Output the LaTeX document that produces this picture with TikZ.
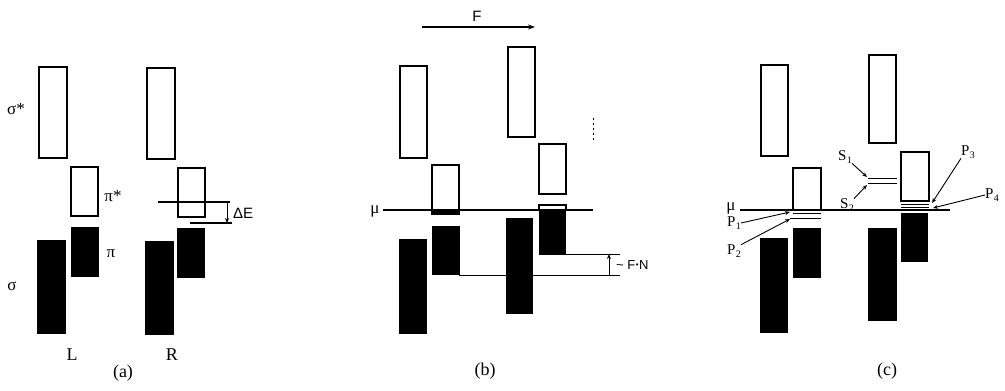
\documentclass[tikz,border=0pt]{standalone}
\usepackage{fontspec}
\setmainfont{Liberation Serif}
\newfontfamily\sansF{Liberation Sans}
\usetikzlibrary{arrows.meta}
\newcommand\bandnode[6]{\node[#2, anchor=north west, minimum width={(#5-#3)*1pt}, minimum height={(#6-#4)*1pt}] (#1) at (#3,#4) {};}
\newcommand\Pl[2]{#1\kern0.3pt\raisebox{-0.35ex}{\fontsize{10}{11}\selectfont #2}}
\tikzset{
  wband/.style={draw=black, fill=white, line width=1.4pt, inner sep=0pt, outer sep=0pt},
  bband/.style={draw=black, fill=black, line width=0.8pt, inner sep=0pt, outer sep=0pt},
  lev/.style={line width=1.4pt},
  thin lev/.style={line width=1pt},
  arr/.style={line width=0.9pt, -{Stealth[length=5pt,width=4pt]}},
  lab/.style={inner sep=0pt, font=\fontsize{17}{19}\selectfont},
  blab/.style={inner sep=0pt, font=\fontsize{18}{20}\selectfont},
  plab/.style={inner sep=0pt, font=\fontsize{15}{17}\selectfont},
  slab/.style={inner sep=0pt, font=\sansF\fontsize{13}{15}\selectfont},
}
\begin{document}
\begin{tikzpicture}[x=1pt,y=-1pt]
\useasboundingbox (0,0) rectangle (1005,391);
% ---------------- panel (a)
\bandnode{aLss}{wband}{39}{67}{67}{158}
\bandnode{aLps}{wband}{71}{167}{98}{216}
\bandnode{aLp}{bband}{71}{227}{98}{276}
\bandnode{aLs}{bband}{37}{240}{65}{333}
\bandnode{aRss}{wband}{147}{68}{175}{159}
\bandnode{aRps}{wband}{178}{168}{205}{217}
\bandnode{aRp}{bband}{177}{228}{204}{277}
\bandnode{aRs}{bband}{145}{241}{173}{334}
\coordinate (dEa1) at (158,202); \coordinate (dEa2) at (230,202);
\coordinate (dEb1) at (190,223); \coordinate (dEb2) at (232,223);
\coordinate (dEt) at (227,202); \coordinate (dEh) at (227,223);
\draw[lev] (dEa1) -- (dEa2);
\draw[lev] (dEb1) -- (dEb2);
\draw[arr] (dEt) -- (dEh);
\node[slab, font=\sansF\fontsize{15}{17}\selectfont, anchor=west] (dE) at (233,213) {ΔE};
\node[lab] (sigs) at (16,109) {σ*};
\node[lab] (pis) at (113,196) {π*};
\node[lab] (pi) at (111,254) {π};
\node[lab] (sig) at (12,286) {σ};
\node[blab] (Ll) at (72,355) {L};
\node[blab] (Rl) at (172,355) {R};
\node[blab] (pa) at (123,373) {(a)};
% ---------------- panel (b)
\coordinate (Fa) at (422,27); \coordinate (Fb) at (535,27);
\draw[line width=1.4pt, -{Stealth[length=7pt,width=5pt]}] (Fa) -- (Fb);
\node[slab, font=\sansF\fontsize{15}{17}\selectfont] (Fl) at (477,16) {F};
\coordinate (bN1) at (459,275); \coordinate (bN2) at (620,275);
\coordinate (bM1) at (565,254); \coordinate (bM2) at (620,254);
\draw[thin lev] (bN1) -- (bN2);
\draw[thin lev] (bM1) -- (bM2);
\coordinate (bAt) at (609,275); \coordinate (bAh) at (609,254);
\draw[arr] (bAt) -- (bAh);
\node[slab, anchor=west] (FN) at (616,265) {\textasciitilde\ F\kern0.5pt\raisebox{0.25ex}{\scalebox{0.6}{•}}\kern0.5ptN};
\bandnode{bLss}{wband}{400}{66}{427}{158}
\bandnode{bLps}{wband}{432}{165}{459}{214}
\bandnode{bLpsb}{bband}{432}{210}{459}{214}
\bandnode{bLp}{bband}{432}{226}{459}{274}
\bandnode{bLs}{bband}{399}{239}{426}{333}
\bandnode{bRss}{wband}{508}{47}{535}{137}
\bandnode{bRps}{wband}{539}{144}{566}{194}
\bandnode{bRpw}{wband}{539}{205}{566}{210}
\bandnode{bRp}{bband}{539}{210}{565}{254}
\bandnode{bRs}{bband}{506}{218}{532}{313}
\coordinate (bmu1) at (383,210); \coordinate (bmu2) at (593,210);
\draw[lev] (bmu1) -- (bmu2);
\node[lab] (bmu) at (375,211) {μ};
\coordinate (bd1) at (593,118); \coordinate (bd2) at (593,142);
\draw[line width=0.8pt, dash pattern=on 2pt off 3pt] (bd1) -- (bd2);
\node[blab] (pb) at (485,371) {(b)};
% ---------------- panel (c)
\bandnode{cLss}{wband}{761}{65}{788}{156}
\bandnode{cLps}{wband}{793}{168}{821}{210}
\bandnode{cLp}{bband}{793}{228}{820}{277}
\bandnode{cLs}{bband}{760}{238}{787}{332}
\bandnode{cRss}{wband}{869}{55}{896}{143}
\bandnode{cRps}{wband}{901}{152}{929}{201}
\bandnode{cRp}{bband}{901}{213}{927}{261}
\bandnode{cRs}{bband}{868}{228}{896}{320}
\coordinate (cmu1) at (740,210); \coordinate (cmu2) at (950,210);
\draw[lev] (cmu1) -- (cmu2);
% level lines
\coordinate (p1a) at (793,213); \coordinate (p1b) at (821,213);
\coordinate (p2a) at (790,218); \coordinate (p2b) at (821,218);
\draw[thin lev] (p1a) -- (p1b);
\draw[thin lev] (p2a) -- (p2b);
\coordinate (s1a) at (868,178); \coordinate (s1b) at (897,178);
\coordinate (s2a) at (868,183); \coordinate (s2b) at (897,183);
\draw[thin lev] (s1a) -- (s1b);
\draw[thin lev] (s2a) -- (s2b);
\coordinate (p3a) at (901,204); \coordinate (p3b) at (929,204);
\coordinate (p4a) at (901,207); \coordinate (p4b) at (929,207);
\draw[thin lev] (p3a) -- (p3b);
\draw[thin lev] (p4a) -- (p4b);
% labels
\node[lab] (cmu) at (731,208) {μ};
\node[plab] (P1) at (734,223) {\Pl{P}{1}};
\node[plab] (P2) at (734,251) {\Pl{P}{2}};
\node[plab] (S1) at (845,157) {\Pl{S}{1}};
\node[plab] (S2) at (847,205) {\Pl{S}{2}};
\node[plab] (P3) at (968,152) {\Pl{P}{3}};
\node[plab] (P4) at (992,195) {\Pl{P}{4}};
% arrows
\coordinate (P1t) at (790,212);
\coordinate (P2t) at (790,219);
\coordinate (S1t) at (867,177);
\coordinate (S2t) at (867,185);
\coordinate (P3t) at (932,203);
\coordinate (P4t) at (933,208);
\draw[arr] (P1.east) -- (P1t);
\draw[arr] (P2.north east) -- (P2t);
\draw[arr] (S1.south east) -- (S1t);
\draw[arr] (S2.north east) -- (S2t);
\draw[arr] (P3.south west) -- (P3t);
\draw[arr] (P4.west) -- (P4t);
\node[blab] (pc) at (887,371) {(c)};
\end{tikzpicture}
\end{document}
